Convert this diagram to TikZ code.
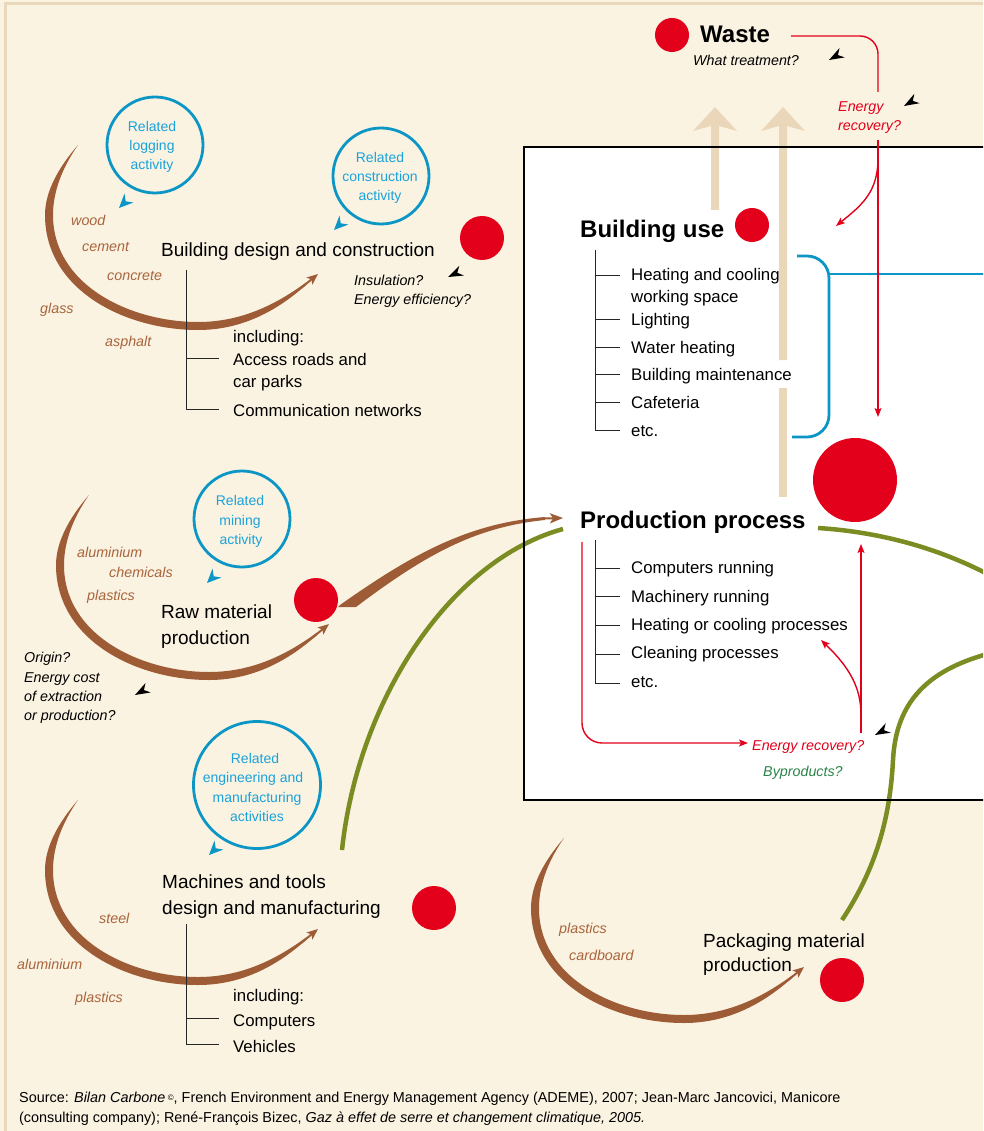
\documentclass[tikz,border=0pt]{standalone}
\usepackage{fontspec}
\setmainfont{Liberation Sans}
\usetikzlibrary{arrows.meta}
\definecolor{bg}{HTML}{FBF3E2}
\definecolor{framec}{HTML}{EAD8BD}
\definecolor{dotred}{HTML}{E2001A}
\definecolor{swbrown}{HTML}{9E5C36}
\definecolor{lblbrown}{HTML}{A8643C}
\definecolor{cblue}{HTML}{0B96C6}
\definecolor{tblue}{HTML}{1AA2DA}
\definecolor{olive}{HTML}{7A8C22}
\definecolor{tanc}{HTML}{EAD7BA}
\definecolor{bygreen}{HTML}{2C8448}
\newcommand\marktip[5]{\begin{scope}[shift={(#2)},rotate=#3,scale=#4]\fill[#1] (0,0) -- (1,-#5) -- (0.68,0) -- (1,#5) -- cycle;\end{scope}}
\begin{document}
\begin{tikzpicture}[x=1pt,y=-1pt,
  txt/.style={inner sep=0pt, anchor=base west, font=\fontsize{16.8}{20}\selectfont},
  headtxt/.style={txt, font=\fontsize{19}{22}\selectfont},
  boldtxt/.style={txt, font=\fontsize{24}{28}\selectfont\bfseries},
  note/.style={txt, font=\fontsize{14.3}{18}\selectfont\itshape},
  mat/.style={note, text=lblbrown},
  circtxt/.style={inner sep=0pt, anchor=base, font=\fontsize{14}{18}\selectfont, text=tblue},
  srctxt/.style={txt, font=\fontsize{14.4}{18}\selectfont},
  reddot/.style={circle, fill=dotred, inner sep=0pt, minimum size=#1},
  bcirc/.style={circle, draw=cblue, line width=2.8, inner sep=0pt, minimum size=#1},
  tree/.style={line width=0.9, black!85},
  redline/.style={draw=dotred, line width=1.4},
  redarr/.style={redline, -{Stealth[length=9pt,width=7pt,inset=2pt]}},
  greenline/.style={draw=olive, line width=4.5},
  swoosh/.pic={
    \fill[swbrown] (78,145) .. controls (58,168) and (45,192) .. (45,215)
      .. controls (45,290) and (125,330) .. (198,330)
      .. controls (245,330) and (280,308) .. (306,285) -- (306,282.5)
      .. controls (278,303) and (243,322) .. (198,322)
      .. controls (130,322) and (53,285) .. (53,215)
      .. controls (53,192) and (62,168) .. (78,145) -- cycle;
    \draw[swbrown, line width=2, -{Stealth[length=11pt,width=9pt,inset=2.5pt]}] (301,288) -- (318,274);
  }]
\useasboundingbox (0,0) rectangle (983,1131);
\clip (0,0) rectangle (983,1131);
\fill[bg] (0,0) rectangle (983,1131);
\draw[framec, line width=3] (5.5,1140) -- (5.5,3.5) -- (995,3.5);

% white box
\fill[white] (524,147) rectangle (995,800);

% tan arrows
\fill[tanc] (715,107) -- (737,131) -- (719,126) -- (719,210) -- (711,210) -- (711,126) -- (693,131) -- cycle;
\fill[tanc] (783,107) -- (805,131) -- (787,126) -- (787,360) -- (779,360) -- (779,126) -- (761,131) -- cycle;
\fill[tanc] (779,388) rectangle (787,497);

% swooshes
\pic at (0,0) {swoosh};
\pic at (11,350) {swoosh};
\pic at (0,655) {swoosh};
\pic at (486,693) {swoosh};

% red dots
\node[reddot=34] (dwaste) at (672,35) {};
\node[reddot=34] (duse) at (752,225) {};
\node[reddot=84] (dprod) at (855,480) {};
\node[reddot=44] (dbuild) at (482,238) {};
\node[reddot=44] (draw) at (316,600) {};
\node[reddot=44] (dmach) at (434,908) {};
\node[reddot=44] (dpack) at (842,980) {};

% thick brown arrow from raw material
\fill[swbrown] (338,607) -- (356,607) .. controls (425,555) and (475,527) .. (545,520) -- (545,517) .. controls (470,523) and (415,552) .. (340,605) -- cycle;
\coordinate (prodin) at (563,518);
\draw[swbrown, line width=2, -{Stealth[length=13pt,width=10pt,inset=3pt]}] (542,518.5) -- (prodin);

% green curves
\draw[greenline] (342,850) .. controls (358,700) and (450,560) .. (563,529);
\draw[greenline] (818,528) .. controls (880,532) and (940,548) .. (995,578);
\draw[greenline] (842,920) .. controls (875,870) and (890,820) .. (893,760) .. controls (896,700) and (930,668) .. (995,652);

% box border
\draw[black, line width=1.6] (995,147) -- (524,147) -- (524,800) -- (995,800);

% blue bracket
\draw[cblue, line width=2.8, rounded corners=22] (797,256) -- (829,256) -- (829,437) -- (792,437);
\draw[cblue, line width=2.8] (829,274) -- (995,274);

% blue circles
\node[bcirc=96] (clog) at (155,145) {};
\node[circtxt] at (152,132) {Related};
\node[circtxt] at (152,151) {logging};
\node[circtxt] at (152,170) {activity};
\node[bcirc=96] (ccons) at (381,176) {};
\node[circtxt] at (380,163) {Related};
\node[circtxt] at (380,182) {construction};
\node[circtxt] at (380,201) {activity};
\node[bcirc=96] (cmine) at (242,519) {};
\node[circtxt] at (240,505) {Related};
\node[circtxt] at (240,525) {mining};
\node[circtxt] at (241,544) {activity};
\node[bcirc=127] (ceng) at (257,785) {};
\node[circtxt] at (255,763) {Related};
\node[circtxt] at (253,782) {engineering and};
\node[circtxt] at (257,802) {manufacturing};
\node[circtxt] at (257,821) {activities};
\marktip{cblue}{119,208}{45}{14}{0.45}
\marktip{cblue}{334,230}{45}{14}{0.45}
\marktip{cblue}{207,583}{45}{14}{0.45}
\marktip{cblue}{209,855}{45}{14}{0.45}

% black marks
\marktip{black}{829,60}{29}{15}{0.36}
\marktip{black}{904,106}{30}{15}{0.36}
\marktip{black}{448,277}{25}{15}{0.36}
\marktip{black}{135,695}{29}{15}{0.36}
\marktip{black}{875,735}{28}{15}{0.36}

% Waste
\node[boldtxt] (waste) at (700,43) {Waste};
\node[note] (treat) at (693,66) {What treatment?};
\node[note, text=dotred] (er1) at (838,112) {Energy};
\node[note, text=dotred] (er2) at (838,131) {recovery?};
\draw[redline, rounded corners=18] (791,36) -- (878,36) -- (878,92);
\coordinate (wdown) at (878,417);
\draw[redarr] (878,140) -- (wdown);
\coordinate (wuse) at (836,226);
\draw[redarr] (878,158) .. controls (878,192) and (862,205) .. (wuse);

% Building use
\node[boldtxt] (use) at (580,238) {Building use};
\draw[tree] (595,250) -- (595,430) -- (620,430);
\foreach \yy in {275,319,347,374,402} \draw[tree] (595,\yy) -- (620,\yy);
\node[txt] (u1) at (631,281) {Heating and cooling};
\node[txt] (u1b) at (631,302) {working space};
\node[txt] (u2) at (631,325) {Lighting};
\node[txt] (u3) at (631,353) {Water heating};
\node[txt] (u4) at (631,380) {Building maintenance};
\node[txt] (u5) at (631,408) {Cafeteria};
\node[txt] (u6) at (631,436) {etc.};

% Production process
\node[boldtxt] (prod) at (580,528) {Production process};
\draw[tree] (595,540) -- (595,683) -- (620,683);
\foreach \yy in {568,596,625,654} \draw[tree] (595,\yy) -- (620,\yy);
\node[txt] (p1) at (631,573) {Computers running};
\node[txt] (p2) at (631,602) {Machinery running};
\node[txt] (p3) at (631,630) {Heating or cooling processes};
\node[txt] (p4) at (631,658) {Cleaning processes};
\node[txt] (p5) at (631,687) {etc.};
\node[note, text=dotred] (per) at (752,750) {Energy recovery?};
\node[note, text=bygreen] (pby) at (763,776) {Byproducts?};
\draw[redarr, rounded corners=20] (582,542) -- (582,743) -- (748,743);
\coordinate (pup) at (861,544);
\draw[redarr] (861,733) -- (pup);
\draw[redarr] (861,715) .. controls (861,688) and (850,668) .. (821,640);

% Building design and construction
\node[headtxt] (bdc) at (161,257) {Building design and construction};
\node[note] (ins1) at (354,286) {Insulation?};
\node[note] (ins2) at (354,305) {Energy efficiency?};
\draw[tree] (186,270) -- (186,409) -- (219,409);
\draw[tree] (186,358) -- (219,358);
\node[txt] (b0) at (233,342) {including:};
\node[txt] (b1) at (233,365) {Access roads and};
\node[txt] (b1b) at (233,387) {car parks};
\node[txt] (b2) at (233,416) {Communication networks};
\node[mat] at (71,226) {wood};
\node[mat] at (82,252) {cement};
\node[mat] at (107,281) {concrete};
\node[mat] at (40,313) {glass};
\node[mat] at (105,346) {asphalt};

% Raw material
\node[headtxt] (raw1) at (161,618) {Raw material};
\node[headtxt] (raw2) at (161,644) {production};
\node[mat] at (77,557) {aluminium};
\node[mat] at (109,577) {chemicals};
\node[mat] at (87,600) {plastics};
\node[note] at (24,662) {Origin?};
\node[note] at (24,682) {Energy cost};
\node[note] at (24,701) {of extraction};
\node[note] at (24,720) {or production?};

% Machines
\node[headtxt] (mac1) at (162,888) {Machines and tools};
\node[headtxt] (mac2) at (162,914) {design and manufacturing};
\node[mat] at (99,923) {steel};
\node[mat] at (17,969) {aluminium};
\node[mat] at (75,1002) {plastics};
\draw[tree] (186,924) -- (186,1044) -- (219,1044);
\draw[tree] (186,1018) -- (219,1018);
\node[txt] (m0) at (233,1001) {including:};
\node[txt] (m1) at (233,1026) {Computers};
\node[txt] (m2) at (233,1052) {Vehicles};

% Packaging
\node[headtxt] (pk1) at (703,947) {Packaging material};
\node[headtxt] (pk2) at (703,971) {production};
\node[mat] at (559,933) {plastics};
\node[mat] at (569,960) {cardboard};

% Source
\node[srctxt] (src1) at (19,1102) {Source: \textit{Bilan Carbone}\,{\fontsize{8}{9}\selectfont\raisebox{1.5pt}{©}}, French Environment and Energy Management Agency (ADEME), 2007; Jean-Marc Jancovici, Manicore};
\node[srctxt] (src2) at (19,1122) {(consulting company); René-François Bizec, \textit{Gaz à effet de serre et changement climatique, 2005.}};
\end{tikzpicture}
\end{document}
